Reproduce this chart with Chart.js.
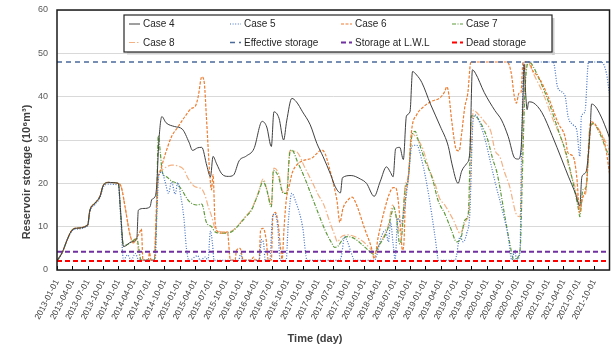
<!DOCTYPE html>
<html><head><meta charset="utf-8">
<script src="https://cdn.jsdelivr.net/npm/chart.js@4.4.1/dist/chart.umd.min.js"></script>
<style>html,body{margin:0;padding:0;background:#fff;}canvas{display:block;}</style>
</head><body>
<canvas id="c" width="612" height="352"></canvas>
<script>
// x values are months since 2013-01-01
const tickLabels = ["2013-01-01","2013-04-01","2013-07-01","2013-10-01","2014-01-01","2014-04-01","2014-07-01","2014-10-01",
"2015-01-01","2015-04-01","2015-07-01","2015-10-01","2016-01-01","2016-04-01","2016-07-01","2016-10-01",
"2017-01-01","2017-04-01","2017-07-01","2017-10-01","2018-01-01","2018-04-01","2018-07-01","2018-10-01",
"2019-01-01","2019-04-01","2019-07-01","2019-10-01","2020-01-01","2020-04-01","2020-07-01","2020-10-01",
"2021-01-01","2021-04-01","2021-07-01","2021-10-01"];

const ramp = [[0,2.1],[1,4],[2,7],[2.7,8.8],[3.5,9.6],[6,10.4],[6.4,13.6],[7.4,15.4],[8.4,17],[9,19.4],[10,20.2],[12,20]];

const case4 = ramp.concat([[12.4,14],[13,5.4],[14.6,6.5],[15.6,7.3],[15.9,13.8],[17,14.2],[18.2,14.6],[18.5,16.2],[19.2,17],[19.5,19.6],[19.9,29.5],[20.5,35.4],[21.3,34],[23,33.1],[24.5,32.5],[25.8,29.5],[26.5,27.6],[27.5,28.2],[28.3,28.3],[29.3,24],[30,21.5],[30.5,26.2],[31.2,24.5],[32.2,22.2],[33.5,21.6],[34.5,21.9],[35.6,25.2],[37,26.3],[38.5,28],[40.1,34.3],[41,33],[41.9,28.5],[42.4,36.5],[43.4,35],[44.3,30],[44.9,34.4],[45.9,39.6],[46.8,38.8],[48,36.5],[49.5,33.5],[50.8,29.2],[52,26.2],[53.5,22],[54.4,19.2],[55.4,17.8],[55.8,21.3],[57.5,21.8],[59.3,21],[60.5,20],[62,17],[63.2,20.5],[64.4,23.8],[65.2,22.5],[65.7,21.5],[66.2,28],[67,28.3],[67.7,25.5],[68.3,35.5],[69,36.5],[69.5,45.8],[70.3,45],[71.3,43.3],[73,38.3],[74.9,33.2],[76.5,28.5],[77.2,24.5],[78.4,20],[79.1,22.8],[80.1,24.6],[80.7,27.2],[81.2,46.2],[81.8,45.4],[83.5,41],[85.6,36.8],[86.9,34.6],[88.2,30.8],[89.5,25.8],[90.2,25.6],[90.7,27.7],[91.1,40],[91.3,47.5],[91.6,41],[91.9,37],[92.2,38.8],[93.1,38.6],[94.8,36.3],[96.8,31],[98.7,25.4],[100,21.5],[101.3,17.8],[102.2,14.8],[102.6,21.5],[103.4,22.6],[104.2,32],[104.5,38.3],[105.2,37.8],[106.4,35.3],[107.7,31.5],[108,30.5]]);

const case5 = [[0,2.1],[1,4],[2,7],[2.7,8.6],[3.5,9.4],[6,10.2],[6.4,13.3],[7.4,15.1],[8.4,16.7],[9,19],[10,19.8],[12,19.6],[12.4,13],[13,2.3],[13.8,3.5],[14.5,2.3],[15.3,3.8],[16,2.3],[19.2,2.3],[19.5,12],[19.9,21.8],[20.5,22.6],[21.1,20.5],[21.8,17.7],[22.4,20.3],[23.1,17.5],[23.6,20.2],[24.2,17],[24.8,12],[25.3,5],[25.8,2.2],[27.5,3.3],[28,2.2],[29,3],[29.5,2.2],[30,9],[30.4,6],[30.7,2.2],[35.5,2.2],[35.9,3.8],[36.3,2.2],[39.5,2.2],[40,7],[40.4,6],[40.7,2.2],[41.6,2.2],[42.1,12],[42.6,13],[43.2,9.2],[43.6,2.2],[44.8,2.2],[45.2,10.8],[45.9,17.7],[46.6,16],[48,10],[48.9,2.2],[55,2.2],[55.6,3.2],[56.2,7.7],[56.8,6.5],[57.5,4],[58.2,2.2],[62,2.2],[63.5,8],[64.2,9.2],[64.8,6.5],[65.2,11],[65.7,6],[66.1,2.5],[66.6,12],[67.2,10.8],[68,14.6],[68.7,21.5],[69.4,28.6],[70.3,28.8],[71.3,25.4],[72.6,17.7],[73.9,7.7],[74.6,2.2],[77.8,2.2],[78.8,7.7],[79.4,6.5],[80.1,8.5],[80.7,13.1],[81.3,34],[81.7,35.8],[82.7,33.8],[83.7,30],[85,23.5],[85.8,19.5],[86.9,14.5],[88.2,7.7],[88.9,2.3],[89.5,4.6],[89.8,2.3],[90.5,4],[90.8,27.7],[91.3,48],[97,48],[97.9,42],[99.3,40.2],[99.9,35.4],[100.9,33.5],[101.6,32.3],[102.2,26.2],[102.5,35.4],[103.2,36.5],[103.9,48],[106.4,48],[107.4,45.4],[108,40.5]];

const case6 = ramp.concat([[12.6,19],[13.3,14.6],[14.3,8],[14.9,6.4],[15.6,7.5],[16.2,8.8],[16.5,9.5],[16.8,2.3],[17.8,2.2],[18.1,4],[18.4,2.2],[19,2.2],[19.3,10],[19.6,20],[20.1,22.5],[21.1,26.5],[22.4,30.8],[23.7,33.1],[25,35.4],[26.3,37.3],[27,37.7],[27.6,40],[28.3,44.6],[28.8,43.1],[29.2,35.4],[29.9,21.5],[30.2,18.5],[30.5,22],[30.9,11],[31.5,8.8],[32.5,8.5],[33.3,8.8],[33.9,2.3],[34.8,2.3],[35.1,4.6],[35.8,5],[36.4,2.3],[38,2.3],[38.4,3],[38.8,2.3],[39.5,2.3],[39.8,9.2],[40.3,9.6],[40.9,6.9],[41.3,2.3],[41.9,2.3],[42.2,12.5],[42.7,13.3],[43.3,10],[43.7,5],[44,2.5],[44.4,10],[44.8,16],[45.5,20],[46,22.5],[47.2,24.6],[48.5,25.4],[49.8,25.8],[50.8,26.9],[51.7,27.7],[52.4,26.9],[53,24.6],[54,20],[54.7,16.2],[55.3,11],[55.9,14.2],[56.9,16.2],[57.7,16.8],[58.7,14.6],[60,10],[61.5,5],[62,2.6],[62.8,7.7],[64,13.8],[65,17.7],[65.7,19],[66.2,19],[66.7,16],[67.2,9],[67.5,4.6],[67.8,6],[68.1,16],[68.7,21.5],[69.3,32],[70.3,35.8],[71.5,37.5],[73,38.8],[74.9,39.8],[75.8,41.2],[76.2,42.3],[76.6,40.5],[77.1,35],[78.1,27.7],[78.6,27.5],[79.1,31.5],[79.7,37.5],[80.3,40.8],[80.9,48],[88,48],[88.8,45.4],[89.4,40],[89.8,38.5],[90.3,40.8],[90.7,41],[91.1,48],[92.3,48],[93,46],[94.1,44.6],[96,40],[98,33.8],[99.3,30.8],[99.9,27],[100.9,26.2],[101.6,21.5],[102.2,13.1],[102.6,16],[103.5,20],[104.2,31.5],[104.5,34.2],[105.9,32.3],[107.2,28.5],[108,22.3]]);

const case7 = ramp.concat([[12.4,14],[13,5.6],[14.6,6.5],[15.6,7.3],[16,5],[16.4,2.3],[19,2.3],[19.4,10],[19.8,31],[20.2,27],[20.6,22.5],[21.4,21.5],[22.4,20.5],[23.4,20],[24.4,18.5],[25.5,16.3],[26.3,15.4],[27.3,15],[28.3,15.2],[29.2,11],[30.2,10],[30.9,8.8],[32.2,8.5],[34.1,8.8],[35.4,10.2],[36.7,12],[38,13.8],[39.3,17.5],[40.3,20.4],[41,18.5],[41.9,14.6],[42.3,23],[43.3,21.5],[44.2,17.7],[44.9,17.7],[45.5,27],[45.9,27.7],[47,25],[48.5,21],[49.8,17],[51.1,13],[52.4,9.2],[53.7,6.2],[54.3,5.2],[55,5.6],[55.9,7.2],[56.9,7.7],[58.2,7.2],[59.5,6],[60.8,4.6],[62,3.6],[62.8,5.4],[64,7.7],[64.8,10],[65.5,13.5],[65.8,14.6],[66.4,11.5],[67,6],[67.4,8],[68,18],[68.7,21.5],[69.3,30.5],[70,32],[70.6,30],[71.9,25.4],[73.4,21],[74.5,16],[75.8,13],[77.1,9.2],[78.1,6.5],[79,7.5],[79.7,11.5],[80.4,13.1],[81,35.6],[81.8,35.5],[83,33.5],[84.1,30.4],[85.2,25.5],[86,22.5],[87.6,12],[88.5,6.2],[89.3,2.3],[90.2,3.2],[90.6,6],[90.8,14],[91.1,27.7],[91.5,42],[92.2,48],[92.8,47.5],[94.2,44.2],[96.2,38.5],[98.2,31.5],[99.5,27],[100.8,20.5],[101.9,14.2],[102.2,12.3],[102.8,18.5],[103.4,19],[104.2,32.5],[104.8,33.8],[106.1,31.5],[107.4,27.7],[108,26.2]]);

const case8 = ramp.concat([[12.6,19],[13.3,14.6],[14.2,8.5],[14.9,6.2],[15.5,6.8],[16,4],[16.4,2.3],[19,2.3],[19.4,12],[19.9,22.5],[20.5,23.1],[21.4,23.8],[22.4,24.2],[23.7,24],[24.7,23.3],[25.7,21],[27,19.2],[28.3,18.7],[29,17],[29.6,14.5],[30.2,12.5],[30.9,9.5],[31.5,9],[32.8,8.8],[34.1,9],[35.4,10.3],[36.7,12.2],[38,14],[39.3,17.7],[40.3,21],[41,18.7],[41.9,15],[42.4,23.5],[43.3,22.3],[44.2,18],[44.9,18],[45.5,27.5],[46.8,27.3],[48.5,23.5],[50,20],[51,17.5],[52.1,15.2],[53.4,10.8],[54.3,8],[54.8,6.5],[55.6,7.7],[56.9,8.1],[58.6,7.5],[59.9,6.5],[61.2,5],[62,4],[62.8,5.5],[64,8],[64.8,10.5],[65.6,15],[66.3,12.5],[67,9],[67.4,9.5],[68,19],[68.7,22],[69.3,31.5],[70.6,30],[71.5,28],[72.6,23.8],[74,19.5],[74.8,16.5],[75.8,15],[77.5,11.5],[78.8,8.5],[79.5,10],[80,11.5],[80.5,13],[81.4,36.9],[82.3,36],[83.7,34],[84.8,32],[85.6,27.7],[86.6,26],[87.5,22.5],[88.5,19.2],[89.7,13.1],[90.5,12.3],[90.9,25],[91.3,40],[91.8,48],[92.2,47.8],[93.1,45.4],[95,40.8],[97,34.6],[98.9,29.2],[100.2,23.1],[101.6,17.7],[102.2,13.8],[102.8,16.9],[103.4,18],[104.2,33.8],[105.5,33.1],[107.4,29.2],[108,27.7]]);

const effectiveStorage = 48.0;
const lwlStorage = 4.2;
const deadStorage = 2.1;
const xEnd = 108;

const pts = a => a.map(p => ({x: p[0], y: p[1]}));
const flat = v => [{x: 0, y: v}, {x: xEnd, y: v}];

const FONT = "'Liberation Sans', Arial, sans-serif";

const datasets = [
  {label:'Dead storage', data:flat(deadStorage), borderColor:'#FF0000', borderWidth:2, borderDash:[5,3], order:0},
  {label:'Storage at L.W.L', data:flat(lwlStorage), borderColor:'#7030A0', borderWidth:2, borderDash:[5,3], order:1},
  {label:'Effective storage', data:flat(effectiveStorage), borderColor:'#4A6A9A', borderWidth:1.6, borderDash:[5,4], order:2},
  {label:'Case 4', data:pts(case4), borderColor:'#404040', borderWidth:1, borderDash:[], order:3},
  {label:'Case 5', data:pts(case5), borderColor:'#4472C4', borderWidth:1.2, borderDash:[1,1.6], order:4},
  {label:'Case 6', data:pts(case6), borderColor:'#ED7D31', borderWidth:1.2, borderDash:[3,1.5], order:5},
  {label:'Case 7', data:pts(case7), borderColor:'#5E9A3A', borderWidth:1.2, borderDash:[4,1.5,1,1.5], order:6},
  {label:'Case 8', data:pts(case8), borderColor:'#F4B183', borderWidth:1.2, borderDash:[6,2,1.5,2], order:7}
];
datasets.forEach(d => { d.pointRadius = 0; d.fill = false; d.cubicInterpolationMode = 'monotone'; });

const legendLayout = [
  ['Case 4', 0, 0], ['Case 5', 1, 0], ['Case 6', 2, 0], ['Case 7', 3, 0],
  ['Case 8', 0, 1], ['Effective storage', 1, 1], ['Storage at L.W.L', 2, 1], ['Dead storage', 3, 1]
];

const framePlugin = {
  id: 'frame',
  afterDatasetsDraw(chart) {
    const {ctx, chartArea: a} = chart;
    const xs = chart.scales.x;
    ctx.save();
    ctx.strokeStyle = '#000';
    ctx.lineWidth = 1;
    xs.ticks.forEach(t => {
      const px = Math.round(xs.getPixelForValue(t.value)) + 0.5;
      ctx.beginPath(); ctx.moveTo(px, a.bottom); ctx.lineTo(px, a.bottom - 4); ctx.stroke();
    });
    ctx.lineWidth = 1.5;
    ctx.strokeStyle = '#1a1a1a';
    ctx.strokeRect(a.left, a.top, a.right - a.left, a.bottom - a.top);
    ctx.restore();
  }
};

const titlesPlugin = {
  id: 'titles',
  afterDraw(chart) {
    const ctx = chart.ctx;
    ctx.save();
    ctx.fillStyle = '#404040';
    ctx.font = 'bold 11px ' + FONT;
    ctx.textAlign = 'center';
    ctx.textBaseline = 'middle';
    ctx.fillText('Time (day)', 315, 339);
    ctx.translate(27, 172);
    ctx.rotate(-Math.PI / 2);
    ctx.fillText('Reservoir storage (10\u2076m\u00B3)', 0, 0);
    ctx.restore();
  }
};

const legendPlugin = {
  id: 'customLegend',
  afterDraw(chart) {
    const ctx = chart.ctx;
    const box = {l: 124, t: 15, r: 552, b: 52};
    ctx.save();
    ctx.fillStyle = '#d0d0d0';
    ctx.fillRect(box.l + 3, box.b, box.r - box.l, 2.5);
    ctx.fillRect(box.r, box.t + 3, 2.5, box.b - box.t);
    ctx.fillStyle = '#fff';
    ctx.fillRect(box.l, box.t, box.r - box.l, box.b - box.t);
    ctx.strokeStyle = '#262626';
    ctx.lineWidth = 1.2;
    ctx.strokeRect(box.l, box.t, box.r - box.l, box.b - box.t);
    const colText = [143, 244, 355, 466];
    const rowY = [24, 42.5];
    ctx.font = '10px ' + FONT;
    ctx.textBaseline = 'middle';
    ctx.textAlign = 'left';
    legendLayout.forEach(([label, c, r]) => {
      const ds = chart.data.datasets.find(d => d.label === label);
      const y = rowY[r];
      const x1 = colText[c] - 3, x0 = x1 - 11;
      ctx.save();
      ctx.strokeStyle = ds.borderColor;
      ctx.lineWidth = ds.borderWidth;
      ctx.setLineDash(ds.borderDash || []);
      ctx.beginPath(); ctx.moveTo(x0, y); ctx.lineTo(x1, y); ctx.stroke();
      ctx.restore();
      ctx.fillStyle = '#262626';
      ctx.fillText(label, colText[c], y + 0.5);
    });
    ctx.restore();
  }
};

new Chart(document.getElementById('c'), {
  type: 'line',
  data: {datasets},
  options: {
    responsive: false,
    animation: false,
    devicePixelRatio: 1,
    layout: {padding: {top: 10, right: 2.5, left: 0, bottom: 0}},
    plugins: {legend: {display: false}, tooltip: {enabled: false}},
    scales: {
      x: {
        type: 'linear', min: 0, max: xEnd, offset: false,
        border: {display: false},
        grid: {display: false, drawTicks: false},
        afterBuildTicks: s => { s.ticks = tickLabels.map((l, i) => ({value: i * 3})); },
        afterFit: s => { s.height = 82; s.paddingTop = 0; },
        ticks: {
          autoSkip: false, minRotation: 63, maxRotation: 63, padding: 8,
          color: '#404040', font: {family: FONT, size: 8.5},
          callback: v => tickLabels[Math.round(v / 3)]
        }
      },
      y: {
        min: 0, max: 60,
        border: {display: false},
        grid: {color: '#d9d9d9', lineWidth: 1, drawTicks: false},
        afterFit: s => { s.width = 57; s.paddingTop = 0; s.paddingBottom = 0; },
        ticks: {stepSize: 10, padding: 9, color: '#595959', font: {family: FONT, size: 9}}
      }
    }
  },
  plugins: [framePlugin, titlesPlugin, legendPlugin]
});
</script>
</body></html>
